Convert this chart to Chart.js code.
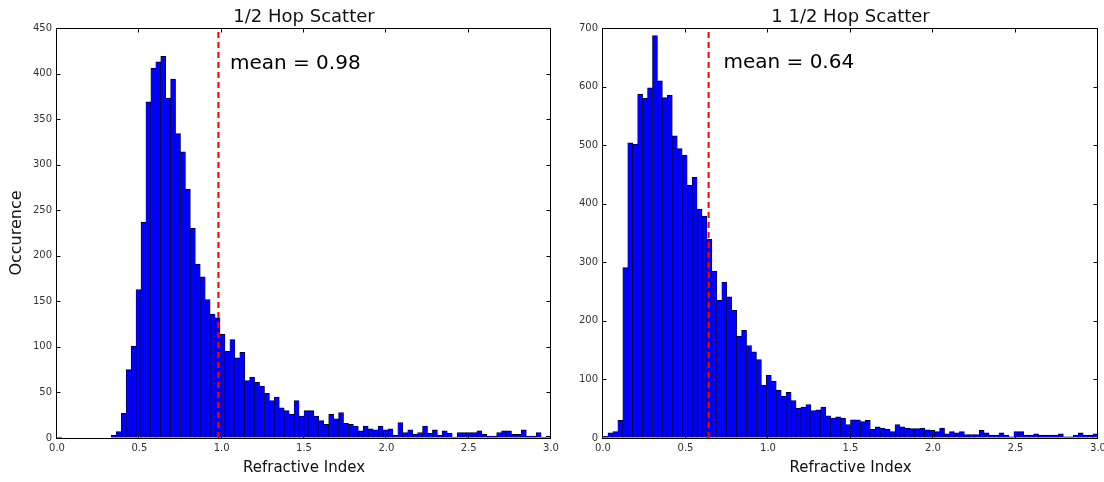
<!DOCTYPE html>
<html>
<head>
<meta charset="utf-8">
<script src="https://cdn.jsdelivr.net/npm/chart.js@4/dist/chart.umd.min.js"></script>
<style>
  html, body { margin: 0; padding: 0; background: #fff; overflow: hidden; }
  body { width: 1104px; height: 482px; position: relative; }
  canvas { position: absolute; top: 0; }
</style>
</head>
<body>
<canvas id="c1" width="566" height="482" style="left:0"></canvas>
<canvas id="c2" width="552" height="482" style="left:560px"></canvas>
<script>
// ---- data ----
const binStart = 0.0;
const binWidth = 0.03;
const halfHopCounts = [
  1,0,0,0,0,0,0,0,0,0,
  0,3,7,27,75,101,163,237,369,406,
  413,419,373,394,334,314,273,230,191,177,
  152,136,132,114,95,108,88,94,63,67,
  61,57,49,41,45,33,30,26,41,24,
  30,30,24,19,15,26,21,28,16,15,
  13,8,13,10,9,13,9,10,3,17,
  6,9,4,6,13,5,9,3,8,5,
  1,6,6,6,6,8,4,2,2,6,
  8,8,4,4,9,2,2,6,1,2
];
const oneHalfHopCounts = [
  3,9,11,30,291,504,502,587,580,598,
  687,610,581,585,516,494,483,432,445,391,
  379,339,285,235,266,241,218,174,184,158,
  147,134,90,107,97,82,71,78,64,51,
  53,57,47,48,53,38,34,36,34,23,
  31,31,28,30,15,19,17,15,11,23,
  19,17,16,16,17,14,13,11,17,7,
  11,9,11,6,6,6,13,9,5,5,
  9,5,2,11,11,5,5,7,5,5,
  5,5,7,2,2,5,9,5,5,7
];
const titles = ["1/2 Hop Scatter", "1 1/2 Hop Scatter"];
const means = [0.98, 0.64];
const meanLabels = ["mean = 0.98", "mean = 0.64"];
const xTicks = [0.0, 0.5, 1.0, 1.5, 2.0, 2.5, 3.0];
const yMaxes = [450, 700];
const ySteps = [50, 100];
const xTitle = "Refractive Index";
const yTitle = "Occurence";

const FONT = "'DejaVu Sans', 'Liberation Sans', sans-serif";

function toPoints(counts) {
  return counts.map((c, i) => ({ x: binStart + binWidth * (i + 0.5), y: c }));
}

function framePlugin(title, meanLabel, labelPos) {
  return {
    id: 'frame',
    afterDatasetsDraw(chart) {
      const { ctx, chartArea: a, scales } = chart;
      ctx.save();
      ctx.fillStyle = '#000';
      ctx.font = "20px " + FONT;
      ctx.textAlign = 'left';
      ctx.textBaseline = 'alphabetic';
      ctx.fillText(meanLabel, scales.x.getPixelForValue(labelPos[0]), scales.y.getPixelForValue(labelPos[1]));
      ctx.strokeStyle = '#000';
      ctx.lineWidth = 1;
      ctx.strokeRect(a.left - 0.5, a.top + 0.5, a.right - a.left, a.bottom - a.top);
      const tl = 4;
      ctx.beginPath();
      scales.x.ticks.forEach(t => {
        const px = Math.round(scales.x.getPixelForValue(t.value)) - 0.5;
        ctx.moveTo(px, a.bottom + 0.5); ctx.lineTo(px, a.bottom + 0.5 - tl);
        ctx.moveTo(px, a.top + 0.5); ctx.lineTo(px, a.top + 0.5 + tl);
      });
      scales.y.ticks.forEach(t => {
        const py = Math.round(scales.y.getPixelForValue(t.value)) + 0.5;
        ctx.moveTo(a.left - 0.5, py); ctx.lineTo(a.left - 0.5 + tl, py);
        ctx.moveTo(a.right - 0.5, py); ctx.lineTo(a.right - 0.5 - tl, py);
      });
      ctx.stroke();
      ctx.font = "18px " + FONT;
      ctx.textAlign = 'center';
      ctx.fillStyle = '#111';
      ctx.fillText(title, (a.left + a.right) / 2, 21.5);
      ctx.restore();
    }
  };
}

function makeChart(id, counts, idx, area, showYTitle, labelPos) {
  const yMax = yMaxes[idx];
  return new Chart(document.getElementById(id), {
    type: 'bar',
    data: {
      datasets: [
        {
          type: 'line',
          data: [{ x: means[idx], y: 0 }, { x: means[idx], y: yMax }],
          borderColor: '#ff0000',
          borderWidth: 2,
          borderDash: [6, 4],
          pointRadius: 0,
          fill: false,
          order: 0
        },
        {
          type: 'bar',
          data: toPoints(counts),
          backgroundColor: '#0000ff',
          borderColor: '#000000',
          borderWidth: { top: 1, left: 0.6, right: 0.6, bottom: 0 },
          borderSkipped: 'start',
          barPercentage: 1.0,
          categoryPercentage: 1.0,
          order: 1
        }
      ]
    },
    options: {
      responsive: false,
      animation: false,
      devicePixelRatio: 1,
      layout: { autoPadding: false, padding: { left: 0, right: area.padRight, top: 28, bottom: 0 } },
      plugins: { legend: { display: false }, tooltip: { enabled: false }, title: { display: false } },
      scales: {
        x: {
          type: 'linear',
          min: 0, max: 3,
          offset: false,
          afterBuildTicks(scale) { scale.ticks = xTicks.map(v => ({ value: v })); },
          afterFit(scale) { scale.height = 44; },
          grid: { display: true, drawOnChartArea: false, drawTicks: false },
          border: { display: false },
          ticks: {
            padding: 4,
            color: '#333',
            font: { family: FONT, size: 10 },
            maxRotation: 0,
            autoSkip: false,
            callback: v => Number(v).toFixed(1)
          },
          title: { display: true, text: xTitle, color: '#111', font: { family: FONT, size: 15 }, padding: { top: 0, bottom: 5 } }
        },
        y: {
          min: 0, max: yMax,
          afterFit(scale) { scale.width = area.left; },
          grid: { display: true, drawOnChartArea: false, drawTicks: false },
          border: { display: false },
          ticks: {
            stepSize: ySteps[idx],
            padding: 5,
            color: '#333',
            font: { family: FONT, size: 10 },
            callback: v => String(v)
          },
          title: { display: showYTitle, text: yTitle, color: '#111', font: { family: FONT, size: 16 }, padding: { top: 7, bottom: 0 } }
        }
      }
    },
    plugins: [framePlugin(titles[idx], meanLabels[idx], labelPos)]
  });
}

makeChart('c1', halfHopCounts, 0, { left: 57, padRight: 15 }, true, [1.05, 405]);
makeChart('c2', oneHalfHopCounts, 1, { left: 43, padRight: 14 }, false, [0.73, 632]);
</script>
</body>
</html>
